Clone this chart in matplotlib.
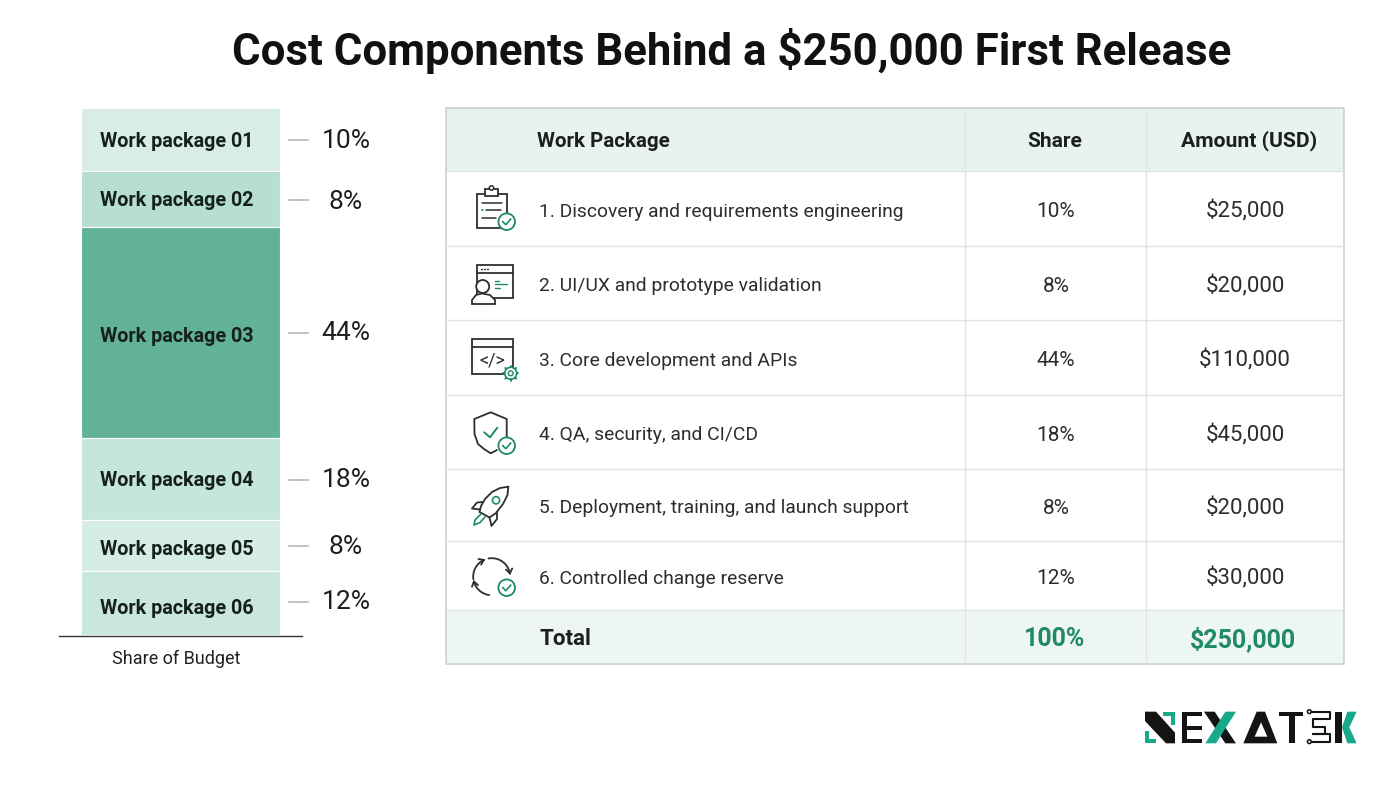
import numpy as np
import matplotlib
matplotlib.use("Agg")
import matplotlib.pyplot as plt
from matplotlib.patches import Rectangle, Circle, Polygon

plt.rcParams['font.family'] = ['Roboto', 'DejaVu Sans']

title = "Cost Components Behind a $250,000 First Release"
bar_labels = ["Work package 01", "Work package 02", "Work package 03",
              "Work package 04", "Work package 05", "Work package 06"]
shares = [10, 8, 44, 18, 8, 12]
# the segments in the picture are not drawn to scale, these are the heights as read off it
drawn_heights = [12.0, 10.6, 40.0, 15.6, 9.7, 12.1]
bar_colors = ["#d9ede7", "#b6dfd2", "#62b297", "#c5e6db", "#d6ede6", "#c9e7dd"]
packages = ["1. Discovery and requirements engineering", "2. UI/UX and prototype validation",
            "3. Core development and APIs", "4. QA, security, and CI/CD",
            "5. Deployment, training, and launch support", "6. Controlled change reserve"]
amounts = [25000, 20000, 110000, 45000, 20000, 30000]
headers = ["Work Package", "Share", "Amount (USD)"]

DARK = "#1c1f1f"
GREEN = "#1f8a66"
GRID = "#dfe3e1"
HEAD = "#e8f3ef"

fig = plt.figure(figsize=(14, 7.88), dpi=100)
ax = fig.add_axes([0, 0, 1, 1])
ax.set_xlim(0, 1400)
ax.set_ylim(788, 0)
ax.axis("off")

ax.text(732, 51, title, ha="center", va="center", fontsize=31.5, fontweight="bold", color="#111111")

##stacked bar on the left
bar_ax = fig.add_axes([81 / 1400, 1 - 635 / 788, 199 / 1400, 527 / 788])
bar_ax.set_xlim(0, 199)
bar_ax.set_ylim(sum(drawn_heights), 0)
bar_ax.axis("off")
#small text shifts in bar units, the labels do not sit exactly on the segment centres
label_nudge = [0.3, 0.3, 0.7, 0.3, 0.7, 1.1]
share_nudge = [0.2, 0.5, 0.1, 0.2, 0.2, -0.3]
bottom = 0
for i in range(6):
    bar_ax.bar(99.5, drawn_heights[i], width=199, bottom=bottom, color=bar_colors[i],
               edgecolor="white", linewidth=0.8)
    mid = bottom + drawn_heights[i] / 2
    bar_ax.text(96, mid + label_nudge[i], bar_labels[i], ha="center", va="center", fontsize=14.2,
                fontweight="bold", color="#15201c")
    bar_ax.plot([208, 227], [mid + share_nudge[i] / 2, mid + share_nudge[i] / 2], color="#b5b9b7", lw=1.2, clip_on=False)
    bar_ax.text(265, mid + share_nudge[i], str(shares[i]) + "%", ha="center", va="center", fontsize=19, color=DARK)
    bottom += drawn_heights[i]

ax.plot([59, 302], [635.5, 635.5], color="#333333", lw=1)
ax.text(176, 658.5, "Share of Budget", ha="center", va="center", fontsize=13, color="#222222")

##table on the right
row_edges = [108, 171, 246, 320, 395, 469, 541, 610, 664]
col_edges = [446, 965, 1146, 1344]
ax.add_patch(Rectangle((446, 108), 898, 63, facecolor=HEAD, edgecolor="none"))
ax.add_patch(Rectangle((446, 610), 898, 54, facecolor="#eef6f3", edgecolor="none"))
for y in row_edges[1:-1]:
    ax.plot([446, 1344], [y, y], color=GRID, lw=1)
for x in col_edges[1:-1]:
    ax.plot([x, x], [108, 664], color=GRID, lw=1)
ax.add_patch(Rectangle((446, 108), 898, 556, facecolor="none", edgecolor="#cbd2cf", lw=1.2))

ax.text(537, 141, headers[0], ha="left", va="center", fontsize=14.8, fontweight="bold", color=DARK)
ax.text(1055, 141, headers[1], ha="center", va="center", fontsize=15, fontweight="bold", color=DARK)
ax.text(1249, 141, headers[2], ha="center", va="center", fontsize=15.2, fontweight="bold", color=DARK)
for i in range(6):
    y = (row_edges[i + 1] + row_edges[i + 2]) / 2 + 3
    ax.text(539, y, packages[i], ha="left", va="center", fontsize=13.9, color="#2a2e2d")
    ax.text(1056, y, str(shares[i]) + "%", ha="center", va="center", fontsize=15, color="#2a2e2d")
    ax.text(1245, y, "${:,}".format(amounts[i]), ha="center", va="center", fontsize=16, color="#2a2e2d")
ax.text(539, 639, "Total", ha="left", va="center", fontsize=16, fontweight="bold", color=DARK)
ax.text(1055, 639, "100%", ha="center", va="center", fontsize=18, fontweight="bold", color=GREEN)
ax.text(1243, 639, "${:,}".format(sum(amounts)), ha="center", va="center", fontsize=18, fontweight="bold", color=GREEN)

##icons
def badge(cx, cy, r=8.3):
    ax.add_patch(Circle((cx, cy), r, facecolor="white", edgecolor=GREEN, lw=1.3, zorder=5))
    ax.plot([cx - 3.8, cx - 1, cx + 4], [cy, cy + 3, cy - 2.5], color=GREEN, lw=1.2, zorder=6)

def line(xs, ys, color="#2b2f2e", lw=1.3, z=3):
    ax.plot(xs, ys, color=color, lw=lw, zorder=z, solid_capstyle="round", solid_joinstyle="round")

def box(x0, y0, x1, y1, lw=1.3):
    ax.add_patch(Rectangle((x0, y0), x1 - x0, y1 - y0, facecolor="white", edgecolor="#2b2f2e", lw=lw, zorder=2))

def arrow_arc(cx, cy, r, a0, a1):
    t = np.radians(np.linspace(a0, a1, 40))
    line(cx + r * np.cos(t), cy + r * np.sin(t))
    #little arrow head at the a1 end
    end = np.radians(a1)
    px, py = cx + r * np.cos(end), cy + r * np.sin(end)
    back = end + (np.pi / 2 if a1 < a0 else -np.pi / 2)
    for spread in (-0.6, 0.6):
        line([px, px + 5.5 * np.cos(back + spread)], [py, py + 5.5 * np.sin(back + spread)])

#clipboard
box(476.7, 193.5, 506.7, 227.5)
ax.add_patch(Rectangle((485, 189), 13, 7, facecolor="white", edgecolor="#2b2f2e", lw=1.3, zorder=3))
ax.add_patch(Circle((491.5, 188), 2.2, facecolor="white", edgecolor="#2b2f2e", lw=1.1, zorder=3))
line([482, 502], [203, 203], lw=1.1)
line([486, 501], [210, 210], lw=1.1)
line([482, 483], [210, 210], GREEN, 1.2)
line([482, 496], [218, 218], lw=1.1)
badge(506.7, 221.7)

#browser and person
box(477, 265, 513, 298)
line([477, 513], [273, 273])
for dx in (481, 484, 487):
    line([dx, dx + 0.5], [269, 269], lw=1)
ax.add_patch(Circle((482.7, 286.5), 6.5, facecolor="white", edgecolor="#2b2f2e", lw=1.3, zorder=3))
ax.add_patch(Polygon([[472, 304], [472, 300], [476, 295], [482, 293.5], [490, 295], [495, 300], [495, 304]],
                     closed=True, facecolor="white", edgecolor="#2b2f2e", lw=1.3, zorder=3))
line([495, 499], [280.5, 280.5], GREEN, 1)
line([495, 507], [284, 284], GREEN, 1)
line([495, 500], [287.5, 287.5], GREEN, 1)

#code window
box(472, 339, 513, 374)
line([472, 513], [347, 347])
ax.text(492, 360.5, "</>", ha="center", va="center", fontsize=13, color="#2b2f2e", zorder=4)
ax.add_patch(Circle((510.7, 373.3), 6, facecolor="white", edgecolor=GREEN, lw=1.2, zorder=5))
ax.add_patch(Circle((510.7, 373.3), 2.4, facecolor="white", edgecolor=GREEN, lw=1, zorder=6))
for a in np.arange(0, 360, 45):
    t = np.radians(a)
    line([510.7 + 6 * np.cos(t), 510.7 + 7.6 * np.cos(t)], [373.3 + 6 * np.sin(t), 373.3 + 7.6 * np.sin(t)], GREEN, 1.4, 6)

#shield
line([506.7, 506.7, 490.7, 474.3, 474.5, 478, 484, 490.7, 497],
     [439, 419, 412.3, 419, 434, 444, 449, 453.3, 450])
line([484.3, 490, 497.3], [432.3, 437.3, 427.7], GREEN, 1.4)
badge(506.7, 445.7)

#rocket
line([508.3, 500, 492, 485, 481, 479.5, 485, 489.5, 496, 503, 507.5, 508.3],
     [486.7, 488, 492, 499, 506, 512, 515, 517.5, 513, 504, 495, 486.7])
ax.add_patch(Circle((496, 500.3), 3.6, facecolor="white", edgecolor=GREEN, lw=1.2, zorder=4))
line([483, 477, 472, 480], [502, 502.5, 508.5, 509.5])
line([489.5, 491.5, 497, 497], [517.5, 526, 519, 512])
line([481, 475, 474, 480, 485], [514, 520, 525, 522.5, 517], GREEN, 1.2)

#cycle arrows
arrow_arc(491.7, 576.7, 18.5, -100, -10)
arrow_arc(491.7, 576.7, 18.5, 98, 165)
arrow_arc(491.7, 576.7, 18.5, 172, 245)
badge(506.7, 587.7)

##logo, drawn in 3x crop coordinates and scaled back
def logo_poly(points, color, ox=1130, oy=695):
    pts = np.array(points, dtype=float) / 3 + [ox, oy]
    ax.add_patch(Polygon(pts, closed=True, facecolor=color, edgecolor="none", zorder=4))

def logo_line(xs, ys, ox=1270, oy=705):
    ax.plot(np.array(xs) / 3 + ox, np.array(ys) / 3 + oy, color=INK, lw=1.5, zorder=4)

INK = "#141414"
TEAL = "#17a98a"
#N
logo_poly([[45, 50], [78, 50], [135, 113], [135, 145], [108, 145], [45, 78]], INK)
logo_poly([[100, 50], [135, 50], [135, 90], [122, 90], [122, 62], [100, 62]], TEAL)
logo_poly([[45, 108], [58, 108], [58, 133], [78, 133], [78, 145], [45, 145]], TEAL)
#E
logo_poly([[155, 50], [215, 50], [215, 62], [170, 62], [170, 92], [215, 92], [215, 104], [170, 104],
           [170, 133], [215, 133], [215, 145], [155, 145]], INK)
#X
logo_poly([[222, 50], [254, 50], [318, 145], [286, 145]], INK)
logo_poly([[318, 50], [286, 50], [226, 145], [258, 145]], TEAL)
#A
logo_poly([[380, 50], [405, 50], [442, 145], [340, 145]], INK)
logo_poly([[393, 82], [412, 125], [374, 125]], "white")
#T
logo_poly([[448, 50], [520, 50], [520, 64], [495, 64], [495, 145], [478, 145], [478, 64], [448, 64]], INK)
#circuit E
logo_line([118, 180, 180, 130, 130, 165, 165, 130, 130, 180, 180, 118], [20, 20, 42, 42, 65, 65, 88, 88, 88, 88, 110, 110])
for cy in (20, 110):
    ax.add_patch(Circle((118 / 3 + 1270, cy / 3 + 705), 1.9, facecolor="white", edgecolor=INK, lw=1.1, zorder=5))
#K
logo_poly([[615, 50], [635, 50], [635, 145], [615, 145]], INK)
logo_poly([[680, 50], [652, 50], [636, 97], [652, 145], [680, 145], [658, 97]], TEAL)

fig.savefig("out.png", dpi=100, facecolor="white")
